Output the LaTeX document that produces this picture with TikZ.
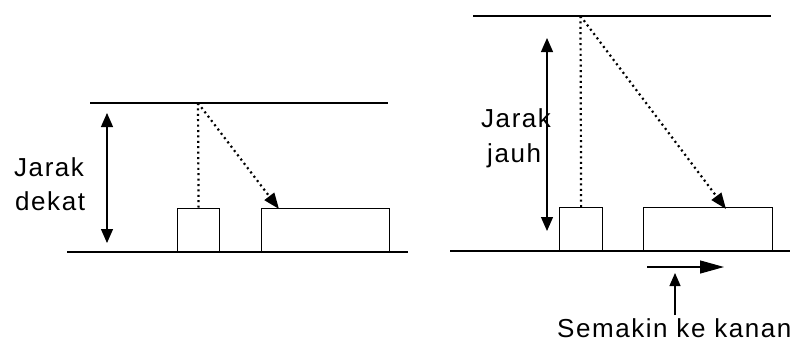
\documentclass[tikz,border=0pt]{standalone}
\usepackage{fontspec}
\setmainfont{Liberation Sans}[LetterSpace=6]
\usetikzlibrary{arrows.meta}
\tikzset{
  ln/.style={line width=1.2pt, black},
  boxn/.style={draw, line width=1.2pt, inner sep=0pt, minimum height=43pt, anchor=south west},
  dots/.style={line width=2.2pt, dash pattern=on 2pt off 3.4pt},
  dbl/.style={line width=1.2pt, {Triangle[length=14pt,width=12pt]}-{Triangle[length=14pt,width=12pt]}},
  headtip/.style={-{Triangle[length=16pt,width=12pt]}},
  lbl/.style={inner sep=0pt, anchor=base west, font=\fontsize{26}{30}\selectfont},
}
\begin{document}
\begin{tikzpicture}[x=1pt,y=-1pt]
\useasboundingbox (0,0) rectangle (794,341);
% ---------- left scene ----------
\coordinate (tl1) at (90,103);
\coordinate (tr1) at (388,103);
\coordinate (s1) at (198,103);
\coordinate (gl1) at (67,252);
\coordinate (gr1) at (408,252);
\coordinate (au1) at (107,113);
\coordinate (ad1) at (107,243);
\coordinate (hit1) at (279,209);
\draw[ln] (tl1) -- (tr1);
\draw[ln] (gl1) -- (gr1);
\node[boxn, minimum width=42pt] (sb1) at (177,252) {};
\node[boxn, minimum width=128pt] (bb1) at (261,252) {};
\draw[dots] (s1) -- (sb1.north);
\draw[dots, headtip] (s1) -- (hit1);
\draw[dbl] (au1) -- (ad1);
\node[lbl] (j1) at (14,176) {Jarak};
\node[lbl] (d1) at (15,210) {dekat};
% ---------- right scene ----------
\coordinate (tl2) at (473,16);
\coordinate (tr2) at (771,16);
\coordinate (s2) at (580.5,16);
\coordinate (gl2) at (450,251);
\coordinate (gr2) at (790,251);
\coordinate (au2) at (547,38);
\coordinate (ad2) at (547,231);
\coordinate (hit2) at (726,209);
\draw[ln] (tl2) -- (tr2);
\draw[ln] (gl2) -- (gr2);
\node[boxn, minimum width=43pt] (sb2) at (559,251) {};
\node[boxn, minimum width=129pt] (bb2) at (643,251) {};
\draw[dots] (s2) -- (sb2.north);
\draw[dots, headtip] (s2) -- (hit2);
\draw[dbl] (au2) -- (ad2);
\node[lbl] (j2) at (481,127) {Jarak};
\node[lbl] (jh) at (487,162) {jauh};
% shift arrow and label
\coordinate (ha) at (647,267);
\coordinate (hb) at (724,267);
\draw[line width=1.2pt, -{Triangle[length=24pt,width=13pt]}] (ha) -- (hb);
\node[lbl] (sk) at (557,337) {Semakin ke kanan};
\coordinate (ub) at (675,315);
\coordinate (ut) at (675,273);
\draw[line width=1.2pt, -{Triangle[length=13pt,width=11pt]}] (ub) -- (ut);
\end{tikzpicture}
\end{document}
